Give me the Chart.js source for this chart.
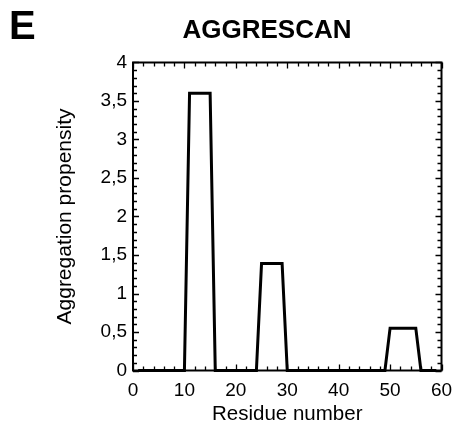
<!DOCTYPE html>
<html>
<head>
<meta charset="utf-8">
<title>AGGRESCAN</title>
<script src="https://cdn.jsdelivr.net/npm/chart.js@4/dist/chart.umd.min.js"></script>
<style>
  html, body { margin: 0; padding: 0; background: #ffffff; }
  #wrap { width: 453px; height: 427px; }
</style>
</head>
<body>
<div id="wrap"><canvas id="c" width="453" height="427"></canvas></div>
<script>
// Aggregation propensity profile along the sequence
const residue     = [1, 10, 11, 15, 16, 24, 25, 29, 30, 49, 50, 55, 56, 59];
const propensity  = [0, 0, 3.6, 3.6, 0, 0, 1.39, 1.39, 0, 0, 0.55, 0.55, 0, 0];

// Axis ranges and tick spacing
const xRange = [0, 60];
const yRange = [0, 4];
const xMajorStep = 10, xMinorStep = 2;
const yMajorStep = 0.5, yMinorStep = 0.1;

const chartTitle = 'AGGRESCAN';
const panelLetter = 'E';

const FONT = "'Liberation Sans', Arial, Helvetica, sans-serif";

const points = residue.map((r, i) => ({ x: r, y: propensity[i] }));

// Frame around the plot area with inward ticks on all four sides,
// plus the panel letter and the chart heading.
const framePlugin = {
  id: 'frameTicks',
  afterDraw(chart) {
    const { ctx, chartArea: a, scales: { x, y } } = chart;
    ctx.save();
    ctx.strokeStyle = '#000';
    ctx.lineWidth = 1.3;
    ctx.beginPath();
    const eps = 1e-9;
    for (let v = xRange[0]; v <= xRange[1] + eps; v += xMinorStep) {
      const major = Math.abs(v / xMajorStep - Math.round(v / xMajorStep)) < 1e-6;
      const len = major ? 6 : 4;
      const px = Math.round(x.getPixelForValue(v)) + 0.5;
      ctx.moveTo(px, a.bottom); ctx.lineTo(px, a.bottom - len);
      ctx.moveTo(px, a.top); ctx.lineTo(px, a.top + len);
    }
    for (let v = yRange[0]; v <= yRange[1] + eps; v += yMinorStep) {
      const major = Math.abs(v / yMajorStep - Math.round(v / yMajorStep)) < 1e-6;
      const len = major ? 6 : 4;
      const py = Math.round(y.getPixelForValue(v)) + 0.5;
      ctx.moveTo(a.left, py); ctx.lineTo(a.left + len, py);
      ctx.moveTo(a.right, py); ctx.lineTo(a.right - len, py);
    }
    ctx.stroke();
    ctx.lineWidth = 2;
    ctx.strokeRect(a.left, a.top, a.right - a.left, a.bottom - a.top);

    ctx.fillStyle = '#000';
    ctx.textBaseline = 'alphabetic';
    ctx.font = 'bold 40px ' + FONT;
    ctx.textAlign = 'left';
    ctx.fillText(panelLetter, 9, 39);

    ctx.font = 'bold 26px ' + FONT;
    ctx.textAlign = 'center';
    ctx.fillText(chartTitle, 267, 38);
    ctx.restore();
  }
};

new Chart(document.getElementById('c'), {
  type: 'line',
  data: {
    datasets: [{
      data: points,
      borderColor: '#000',
      borderWidth: 3,
      pointRadius: 0,
      tension: 0,
      fill: false,
      clip: false
    }]
  },
  options: {
    responsive: false,
    animation: false,
    layout: { padding: { left: 0, right: 0, top: 62.5, bottom: 0 } },
    plugins: {
      legend: { display: false },
      tooltip: { enabled: false },
      title: { display: false }
    },
    scales: {
      x: {
        type: 'linear',
        min: xRange[0], max: xRange[1],
        grid: { display: false, drawTicks: false },
        border: { display: false },
        ticks: {
          stepSize: xMajorStep,
          color: '#000',
          padding: 9,
          maxRotation: 0,
          font: { family: FONT, size: 19 }
        },
        title: {
          display: true,
          text: 'Residue number',
          color: '#000',
          font: { family: FONT, size: 20.5 },
          padding: { top: 0, bottom: 0 }
        },
        afterFit(s) { s.height = 56.5; s.paddingRight = 11.5; }
      },
      y: {
        type: 'linear',
        min: yRange[0], max: yRange[1],
        grid: { display: false, drawTicks: false },
        border: { display: false },
        ticks: {
          stepSize: yMajorStep,
          color: '#000',
          padding: 6,
          font: { family: FONT, size: 19 },
          callback: v => String(v).replace('.', ',')
        },
        title: {
          display: true,
          text: 'Aggregation propensity',
          color: '#000',
          font: { family: FONT, size: 21 },
          padding: { top: 53, bottom: 0 }
        },
        afterFit(s) { s.width = 133; }
      }
    }
  },
  plugins: [framePlugin]
});
</script>
</body>
</html>
